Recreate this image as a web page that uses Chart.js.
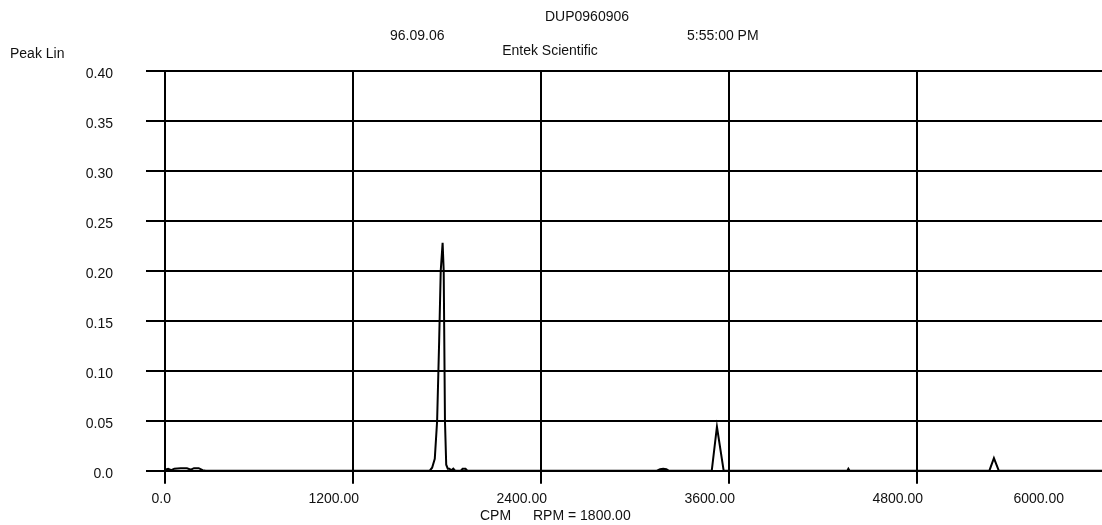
<!DOCTYPE html>
<html>
<head>
<meta charset="utf-8">
<script src="https://cdn.jsdelivr.net/npm/chart.js@4.4.1/dist/chart.umd.min.js"></script>
<style>
  html, body { margin: 0; padding: 0; background: #fff; overflow: hidden; }
  #wrap { position: relative; width: 1102px; height: 525px; }
</style>
</head>
<body>
<div id="wrap"><canvas id="chart"></canvas></div>
<script>
// Spectrum (CPM vs peak amplitude)
const cpm = [
  0, 20, 40, 60, 100, 140, 165, 185, 215, 240, 260,
  1690, 1705, 1722, 1737, 1750, 1760, 1772, 1779, 1787, 1795, 1805, 1815, 1828, 1840, 1852,
  1888, 1900, 1918, 1930,
  3140, 3160, 3180, 3200, 3215,
  3490, 3523, 3566,
  4355, 4362, 4370,
  5262, 5291, 5322,
  5981
];
const amplitude = [
  0.001, 0.002, 0.0005, 0.002, 0.0025, 0.0025, 0.001, 0.0025, 0.0025, 0.0005, 0,
  0, 0.003, 0.012, 0.05, 0.13, 0.2, 0.228, 0.2, 0.05, 0.006, 0.002, 0.002, 0.0005, 0.002, 0,
  0, 0.002, 0.002, 0,
  0, 0.0015, 0.002, 0.0015, 0,
  0, 0.044, 0,
  0, 0.002, 0,
  0, 0.0125, 0,
  0
];
const xTicks = [0, 1200, 2400, 3600, 4800, 6000];
const xTickLabels = ['0.0', '1200.00', '2400.00', '3600.00', '4800.00', '6000.00'];

const FONT = '"Liberation Sans", Arial, sans-serif';
const INK = '#111';

// header, axis captions and x tick labels
const textPlugin = {
  id: 'texts',
  afterDraw(chart) {
    const ctx = chart.ctx;
    const x = chart.scales.x;
    const area = chart.chartArea;
    ctx.save();
    ctx.fillStyle = INK;
    ctx.font = '14px ' + FONT;
    ctx.textBaseline = 'middle';

    ctx.textAlign = 'center';
    ctx.fillText('DUP0960906', 587, 17);
    ctx.fillText('Entek Scientific', 550, 51);
    ctx.textAlign = 'left';
    ctx.fillText('96.09.06', 390, 36);
    ctx.fillText('5:55:00 PM', 687, 36);
    ctx.fillText('Peak Lin', 10, 54);
    ctx.fillText('CPM', 480, 516);
    ctx.fillText('RPM = 1800.00', 533, 516);

    ctx.textAlign = 'right';
    xTicks.forEach((v, i) => {
      const px = Math.min(x.getPixelForValue(v) + 6, area.right - 38);
      ctx.fillText(xTickLabels[i], px, 499);
    });
    ctx.restore();
  }
};

new Chart(document.getElementById('chart'), {
  type: 'line',
  data: {
    datasets: [{
      data: cpm.map((c, i) => ({ x: c, y: amplitude[i] })),
      borderColor: '#000',
      borderWidth: 2,
      pointRadius: 0,
      tension: 0,
      fill: false
    }]
  },
  options: {
    responsive: true,
    maintainAspectRatio: false,
    animation: false,
    layout: { padding: { top: 71, right: 0, left: 0, bottom: 0 } },
    plugins: { legend: { display: false }, tooltip: { enabled: false } },
    scales: {
      x: {
        type: 'linear',
        min: -121.3,
        max: 5980.9,
        afterBuildTicks: (scale) => {
          scale.ticks = xTicks.filter(v => v <= scale.max).map(v => ({ value: v }));
        },
        afterFit: (scale) => { scale.height = 54.3; },
        ticks: { display: false },
        border: { display: false },
        grid: { color: '#000', lineWidth: 2, drawTicks: true, tickLength: 13 }
      },
      y: {
        min: 0,
        max: 0.4,
        afterFit: (scale) => { scale.width = 146; },
        ticks: {
          stepSize: 0.05,
          padding: 33,
          labelOffset: 3,
          color: INK,
          font: { family: FONT, size: 14 },
          callback: (v) => (v === 0 ? '0.0' : Number(v).toFixed(2))
        },
        border: { display: false },
        grid: { color: '#000', lineWidth: 2, drawTicks: false }
      }
    }
  },
  plugins: [textPlugin]
});
</script>
</body>
</html>
